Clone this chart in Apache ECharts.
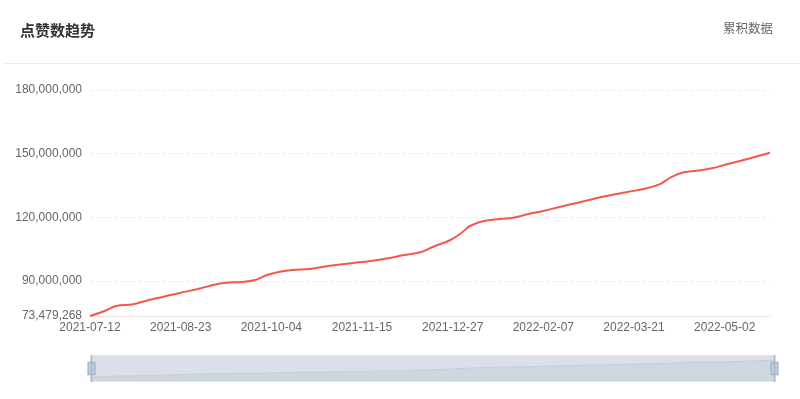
<!DOCTYPE html>
<html>
<head>
<meta charset="utf-8">
<title>点赞数趋势</title>
<script src="https://cdn.jsdelivr.net/npm/echarts@6/dist/echarts.min.js"></script>
<style>
  html, body { margin: 0; padding: 0; background: #fff; }
  #main { width: 800px; height: 399px; }
</style>
</head>
<body>
<div id="main"></div>
<script>
// daily categories 2021-07-12 .. 2022-05-23
var startDate = '2021-07-12';
var dayCount = 316;

// values at sample days
var sampleDates = [
  '2021-07-12', '2021-07-19', '2021-07-24', '2021-08-01', '2021-08-07', '2021-08-15',
  '2021-08-23', '2021-08-31', '2021-09-07', '2021-09-13', '2021-09-20', '2021-09-26',
  '2021-10-02', '2021-10-08', '2021-10-14', '2021-10-22', '2021-10-31', '2021-11-11',
  '2021-11-19', '2021-11-27', '2021-12-04', '2021-12-12', '2021-12-18', '2021-12-26',
  '2021-12-31', '2022-01-04', '2022-01-10', '2022-01-18', '2022-01-24', '2022-01-31',
  '2022-02-07', '2022-02-15', '2022-02-23', '2022-03-02', '2022-03-10', '2022-03-18',
  '2022-03-26', '2022-04-02', '2022-04-07', '2022-04-13', '2022-04-19', '2022-04-26',
  '2022-05-03', '2022-05-13', '2022-05-23'
];
var likeCounts = [
  73479268, 75980000, 78190000, 78990000, 80690000, 82580000,
  84460000, 86200000, 88090000, 89170000, 89500000, 90300000,
  92800000, 94360000, 95160000, 95630000, 97190000, 98460000,
  99400000, 100680000, 102090000, 103500000, 106140000, 109300000,
  112600000, 115900000, 118110000, 119200000, 119810000, 121550000,
  122970000, 125000000, 126880000, 128620000, 130370000, 131920000,
  133480000, 135600000, 138850000, 141210000, 141960000, 143090000,
  144980000, 147620000, 150450000
];
var yMin = 73479268;
var yMax = 180000000;

function pad(n) { return n < 10 ? '0' + n : '' + n; }
var categories = [];
var d0 = new Date(startDate + 'T00:00:00Z');
for (var i = 0; i < dayCount; i++) {
  var d = new Date(d0.getTime() + i * 86400000);
  categories.push(d.getUTCFullYear() + '-' + pad(d.getUTCMonth() + 1) + '-' + pad(d.getUTCDate()));
}
var seriesData = sampleDates.map(function (s, k) { return [s, likeCounts[k]]; });

var zoomShadow = {
  lineStyle: { color: '#c5cedb', width: 1, opacity: 1 },
  areaStyle: { color: '#ced6e0', opacity: 1 }
};

var myChart = echarts.init(document.getElementById('main'));
var option = {
  backgroundColor: '#fff',
  animation: false,
  title: {
    text: '点赞数趋势',
    left: 20,
    top: 23,
    padding: 0,
    textStyle: { fontSize: 15, fontWeight: 'bold', color: '#333', fontFamily: 'Noto Sans CJK SC' }
  },
  graphic: [
    {
      type: 'text',
      right: 27,
      top: 22,
      style: { text: '累积数据', fill: '#666', font: '12.5px "Noto Sans CJK SC"' }
    },
    {
      type: 'line',
      left: 0,
      top: 61,
      shape: { x1: 0, y1: 0, x2: 800, y2: 0 },
      style: { stroke: '#ebebeb', lineWidth: 1 }
    }
  ],
  tooltip: { trigger: 'axis' },
  grid: { left: 90, right: 30, top: 90, bottom: 83 },
  xAxis: {
    type: 'category',
    boundaryGap: false,
    data: categories,
    axisLine: { lineStyle: { color: '#e6e6e6' } },
    axisTick: { show: false },
    axisLabel: { interval: 41, color: '#666', fontSize: 12, margin: 6 }
  },
  yAxis: {
    type: 'value',
    min: yMin,
    max: yMax,
    splitNumber: 4,
    axisLine: { show: false },
    axisTick: { show: false },
    axisLabel: {
      color: '#666',
      fontSize: 12,
      margin: 8,
      formatter: function (v) { return Math.round(v).toLocaleString('en-US'); }
    },
    splitLine: { lineStyle: { color: '#f0f0f0', type: 'dashed' } }
  },
  dataZoom: [
    {
      type: 'slider',
      start: 0,
      end: 100,
      left: 88,
      right: 27,
      bottom: 17,
      height: 27,
      brushSelect: false,
      showDetail: false,
      borderColor: '#e2e6ec',
      backgroundColor: '#dadfe8',
      fillerColor: 'rgba(0,0,0,0)',
      handleIcon: 'path://M0,0V40M-5,11h10v18h-10z',
      handleSize: '100%',
      handleStyle: { color: '#c3ccd9', borderColor: '#a7b7cc', borderWidth: 1.5 },
      dataBackground: zoomShadow,
      selectedDataBackground: zoomShadow
    }
  ],
  series: [
    {
      name: '点赞数',
      type: 'line',
      data: seriesData,
      smooth: 0.4,
      showSymbol: false,
      lineStyle: { color: '#f5564e', width: 2 },
      itemStyle: { color: '#f5564e' }
    }
  ]
};
myChart.setOption(option);
</script>
</body>
</html>
